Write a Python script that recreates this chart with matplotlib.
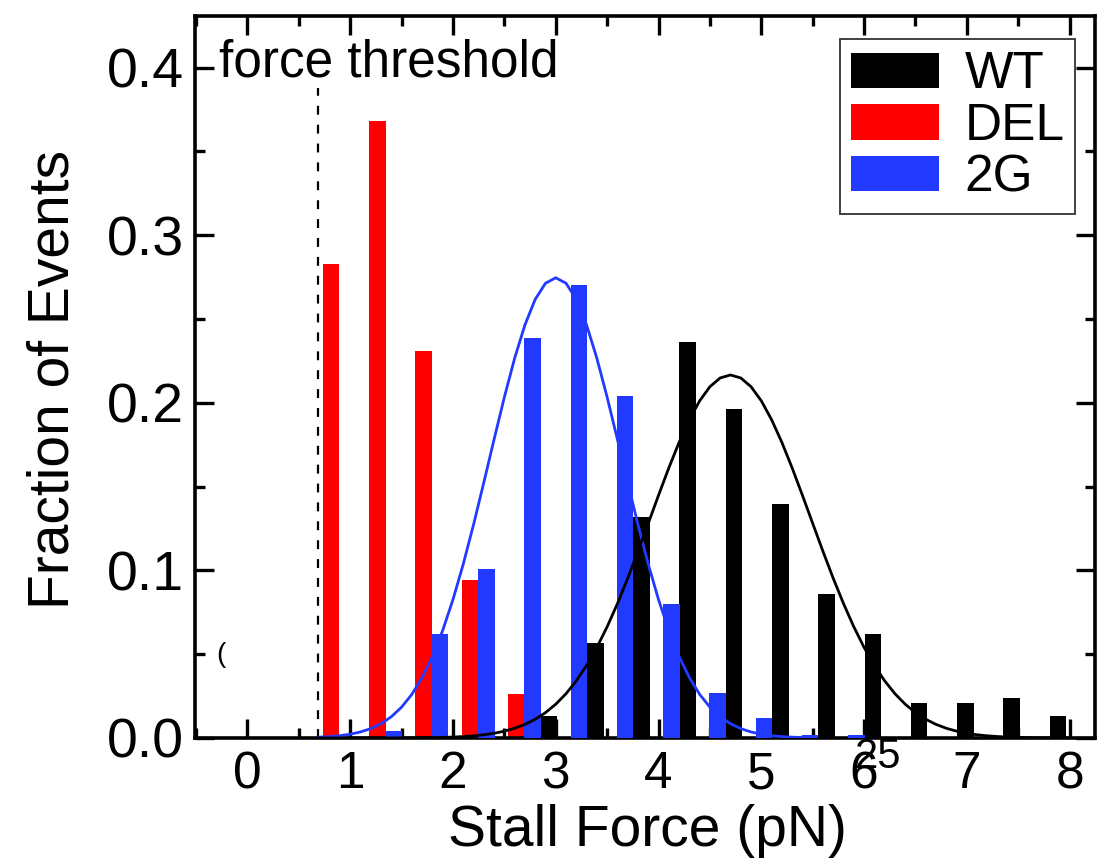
import numpy as np
import matplotlib
matplotlib.use("Agg")
import matplotlib.pyplot as plt

plt.rcParams['font.family'] = ['Liberation Sans', 'DejaVu Sans']

# histogram bin centres (pN), 0.45 pN bins above the threshold
bin_centers = [0.975, 1.425, 1.875, 2.325, 2.775, 3.225, 3.675, 4.125,
               4.575, 5.025, 5.475, 5.925, 6.375, 6.825, 7.275, 7.725]

frac_wt = [0, 0, 0, 0, 0.013, 0.0565, 0.132, 0.2365,
           0.196, 0.1396, 0.086, 0.062, 0.021, 0.021, 0.024, 0.013]
frac_del = [0.283, 0.368, 0.231, 0.094, 0.026, 0, 0, 0,
            0, 0, 0, 0, 0, 0, 0, 0]
frac_2g = [0, 0.004, 0.062, 0.101, 0.2385, 0.270, 0.204, 0.080,
           0.027, 0.012, 0.002, 0.002, 0, 0, 0, 0]

# gaussian fits: amplitude, mean, sigma
fit_wt = (0.2166, 4.70, 0.78)
fit_2g = (0.2746, 3.00, 0.645)

threshold = 0.69

RED = '#ff0000'
BLUE = '#2239ff'
BLACK = '#000000'


def gauss(x, amp, mu, sig):
    return amp * np.exp(-(x - mu) ** 2 / (2 * sig ** 2))


fig = plt.figure(figsize=(11.06, 8.59), dpi=100)
ax = fig.add_axes([0.1763, 0.1409, 0.8137, 0.8405])

w = 0.162
pos = np.array(bin_centers)
ax.bar(pos - 0.16, frac_del, width=w, color=RED, label='DEL', zorder=2)
ax.bar(pos + 0.16, frac_wt, width=w, color=BLACK, label='WT', zorder=2)
ax.bar(pos, frac_2g, width=w, color=BLUE, label='2G', zorder=3)

xf = np.arange(0.7, 5.55, 0.1)
ax.plot(xf, gauss(xf, *fit_2g), color=BLUE, lw=2, zorder=4)
xf = np.arange(0.7, 8.05, 0.1)
ax.plot(xf, gauss(xf, *fit_wt), color=BLACK, lw=2, zorder=4)

ax.plot([threshold, threshold], [0, 0.388], color='black', lw=1.6,
        ls=(0, (4, 4.5)), zorder=1)
ax.text(-0.275, 0.3944, 'force threshold', fontsize=37, ha='left',
        va='baseline')

ax.set_xlim(-0.51, 8.246)
ax.set_ylim(0, 0.4308)
ax.set_xticks(range(0, 9))
ax.set_xticks(np.arange(-0.5, 8.3, 0.5), minor=True)
ax.set_yticks([0.0, 0.1, 0.2, 0.3, 0.4])
ax.set_yticks(np.arange(0, 0.45, 0.05), minor=True)
ax.set_yticklabels(['0.0', '0.1', '0.2', '0.3', '0.4'])
ax.tick_params(which='both', direction='in', top=True, right=True,
               width=2.4)
ax.tick_params(which='major', length=14)
ax.tick_params(which='minor', length=7)
ax.tick_params(axis='x', labelsize=37, pad=9)
ax.tick_params(axis='y', labelsize=40, pad=8)
for s in ax.spines.values():
    s.set_linewidth(2.6)

ax.set_xlabel('Stall Force (pN)', fontsize=41)
ax.set_ylabel('Fraction of Events', fontsize=41)
ax.xaxis.set_label_coords(0.503, -0.091)
ax.yaxis.set_label_coords(-0.127, 0.497)

handles, labels = ax.get_legend_handles_labels()
order = [1, 0, 2]
leg = ax.legend([handles[i] for i in order], [labels[i] for i in order],
                loc='upper left', bbox_to_anchor=(0.7167, 0.741, 0.2611, 0.227),
                mode='expand', borderaxespad=0, fontsize=37, fancybox=False,
                handlelength=1.7, handleheight=0.68, labelspacing=0.05,
                handletextpad=0.5, borderpad=0.22)
leg.get_frame().set_edgecolor('black')
leg.get_frame().set_linewidth(1.3)

# stray glyphs near the axis
fig.text(878 / 1106, 1 - 757 / 859, '25', fontsize=30, ha='center',
         va='center')
fig.text(221 / 1106, 1 - 655 / 859, '(', fontsize=20, ha='center',
         va='center')

fig.savefig('out.png', dpi=100)
